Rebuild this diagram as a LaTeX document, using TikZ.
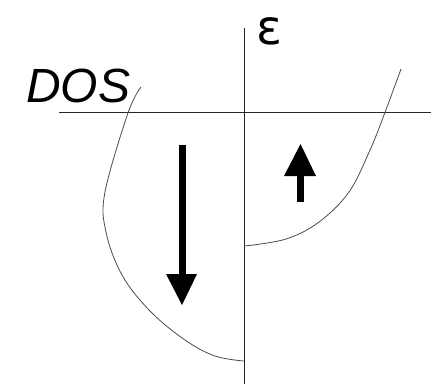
\documentclass[tikz,border=0pt]{standalone}
\usepackage{fontspec}
\setmainfont{Liberation Sans}
\newfontfamily\djv{DejaVu Sans}
\begin{document}
\begin{tikzpicture}[x=1pt,y=-1pt,
  axis/.style={draw=black!85,line width=1.1pt},
  dos/.style={draw=black!70,line width=0.8pt},
  spinarrow/.style={fill=black}]
\useasboundingbox (0,0) rectangle (438,384);
% axes
\draw[axis] (59,112.7) -- (431,112.7);
\draw[axis] (244.5,28) -- (244.5,384);
% labels
\node[anchor=base west,inner sep=0pt,font=\fontsize{48}{48}\selectfont\itshape] (dos) at (26,102) {DOS};
\node[anchor=base,inner sep=0pt,font=\djv\fontsize{48}{48}\selectfont] (eps) at (269,44.5) {ε};
% spin-down DOS
\draw[dos] plot[smooth,tension=0.6] coordinates {(141,87) (128,113) (105,192) (106,232) (122,275) (150,311) (185,340) (215,356) (244,361)};
% spin-up DOS
\draw[dos] plot[smooth,tension=0.6] coordinates {(244.5,246) (286,239) (319,222) (349,192) (370,150) (384,115) (401,69)};
% spin arrows
\fill[spinarrow] (178.5,145) rectangle (185.5,276);
\fill[spinarrow] (166,274) -- (197,274) -- (182,305) -- cycle;
\fill[spinarrow] (297,174) rectangle (304,202);
\fill[spinarrow] (284,176) -- (316,176) -- (300.5,144) -- cycle;
\end{tikzpicture}
\end{document}
